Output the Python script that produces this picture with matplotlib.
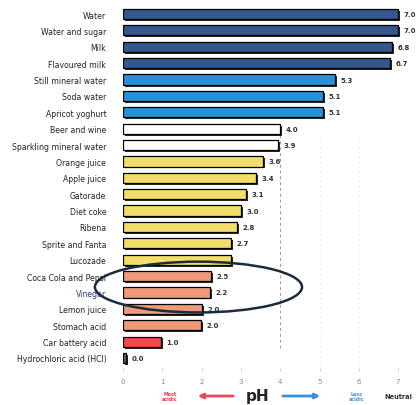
import matplotlib
matplotlib.use("Agg")
import matplotlib.pyplot as plt
import matplotlib.patches as patches
import matplotlib.patheffects as pe

# drinks / liquids, top to bottom
labels = ["Water", "Water and sugar", "Milk", "Flavoured milk", "Still mineral water",
          "Soda water", "Apricot yoghurt", "Beer and wine", "Sparkling mineral water",
          "Orange juice", "Apple juice", "Gatorade", "Diet coke", "Ribena",
          "Sprite and Fanta", "Lucozade", "Coca Cola and Pepsi", "Vinegar",
          "Lemon juice", "Stomach acid", "Car battery acid", "Hydrochloric acid (HCl)"]
# bar lengths
ph_values = [7.0, 7.0, 6.85, 6.8, 5.4, 5.1, 5.1, 4.0, 3.95, 3.56, 3.38, 3.13, 3.0, 2.9,
             2.75, 2.75, 2.24, 2.22, 2.0, 1.98, 0.97, 0.08]
# numbers printed next to the bars
value_text = ["7.0", "7.0", "6.8", "6.7", "5.3", "5.1", "5.1", "4.0", "3.9", "3.6", "3.4",
              "3.1", "3.0", "2.8", "2.7", "", "2.5", "2.2", "2.0", "2.0", "1.0", "0.0"]
groups = ["dark"] * 4 + ["blue"] * 3 + ["white"] * 2 + ["yellow"] * 7 + ["salmon"] * 4 + ["red", "grey"]
group_colors = {"dark": "#33578f", "blue": "#2b8fd6", "white": "#ffffff", "yellow": "#f2de68",
                "salmon": "#ee9a78", "red": "#ee4848", "grey": "#666666"}
ticks = [0, 1, 2, 3, 4, 5, 6, 7]

W, H = 416, 406
fig = plt.figure(figsize=(W / 100, H / 100), dpi=100)
# axes placed so 0 sits at x=123px and the rows run from y=15 to y=359
ax = fig.add_axes([123 / W, 1 - 368.8 / H, (W - 123) / W, (368.8 - 5.2) / H])

rows = list(range(len(labels)))
colors = [group_colors[g] for g in groups]
bars = ax.barh(rows, ph_values, height=0.62, color=colors, edgecolor="black", linewidth=0.9, zorder=3)
for b in bars:
    b.set_path_effects([pe.SimplePatchShadow(offset=(1.4, -1.4), shadow_rgbFace="#111111", alpha=0.9),
                        pe.Normal()])

for r, v, t in zip(rows, ph_values, value_text):
    ax.text(v + 0.14, r, t, va="center", ha="left", fontsize=5, fontweight="bold",
            color="#333333", clip_on=False)

ax.set_xlim(0, (W - 123) / 39.3)
ax.set_ylim(len(labels) - 0.4, -0.6)
ax.set_yticks(rows)
ax.set_yticklabels(labels, fontsize=5.6, color="#222222")
ax.get_yticklabels()[17].set_color("#2a3a7a")
ax.tick_params(axis="y", length=0, pad=12)
ax.set_xticks(ticks)
ax.set_xticklabels([str(t) for t in ticks], fontsize=5, color="#888888")
ax.tick_params(axis="x", length=2, width=0.5, color="#bbbbbb", pad=5)
for s in ax.spines.values():
    s.set_visible(False)

# faint dashed gridlines behind the bars
ax.vlines(4, 7.4, 20.5, linestyles=(0, (3, 3)), color="#999999", lw=0.7, zorder=0)
for t in [5, 6]:
    ax.vlines(t, 7.5, 21.5, linestyles=(0, (1, 4)), color="#d4d4d4", lw=0.7, zorder=0)

# hand drawn ring around the fizzy drinks / vinegar
ring = patches.Ellipse((1.92, 16.67), 5.27, 3.1, fill=False, edgecolor="#1c2b3c",
                       linewidth=1.8, zorder=6, clip_on=False)
ax.add_patch(ring)

# pH direction legend at the bottom
y0 = 1 - 397 / H
fig.text(170 / W, y0, "Most\nacidic", color="#e83a4a", fontsize=3.4, ha="center", va="center",
         fontweight="bold", linespacing=1.1)
fig.text(258 / W, y0, "pH", color="#222222", fontsize=11, fontweight="bold", ha="center", va="center")
fig.text(357 / W, y0, "Less\nacidic", color="#3a9be0", fontsize=3.4, ha="center", va="center",
         fontweight="bold", linespacing=1.1)
fig.text(398 / W, y0, "Neutral", color="#333333", fontsize=4.8, ha="center", va="center",
         fontweight="bold")
ax.annotate("", xy=(195 / W, y0), xytext=(236 / W, y0), xycoords="figure fraction",
            arrowprops=dict(arrowstyle="-|>", color="#e84a5a", lw=2, mutation_scale=7))
ax.annotate("", xy=(323 / W, y0), xytext=(280 / W, y0), xycoords="figure fraction",
            arrowprops=dict(arrowstyle="-|>", color="#3a8fe0", lw=2, mutation_scale=7))

fig.savefig("out.png", dpi=100, facecolor="white")
